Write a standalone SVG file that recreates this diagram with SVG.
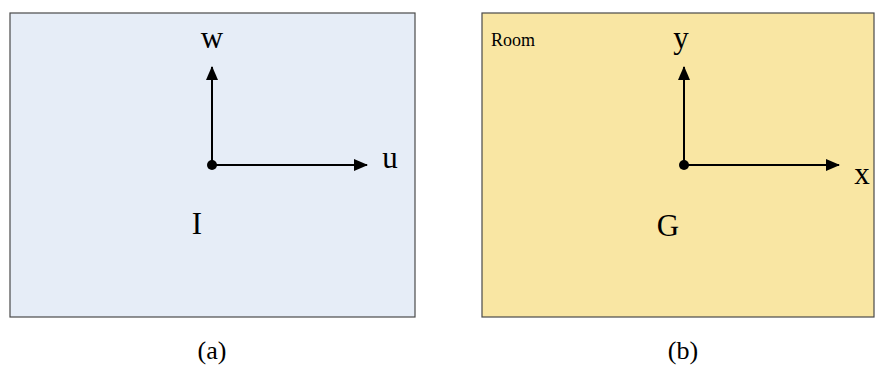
<svg xmlns="http://www.w3.org/2000/svg" width="876" height="365" viewBox="0 0 876 365">
<style>
text{font-family:"Liberation Serif","Times New Roman",serif;fill:#000}
.lbl{font-size:31px}
.cap{font-size:26px;text-anchor:middle}
.ax{stroke:#000;stroke-width:2;fill:none}
.box{stroke:#4a4a4a;stroke-width:1.2}
</style>
<defs>
<marker id="ah" viewBox="0 0 14 12" refX="13" refY="6" markerWidth="14" markerHeight="12" markerUnits="userSpaceOnUse" orient="auto">
<path d="M0,0 L14,6 L0,12 Z" fill="#000"/>
</marker>
</defs>
<g id="panelA">
<rect class="box" x="10" y="13" width="405" height="304" fill="#e6edf7"/>
<text class="lbl" x="212" y="48" text-anchor="middle">w</text>
<text class="lbl" x="390" y="168" text-anchor="middle">u</text>
<text class="lbl" x="197" y="234" text-anchor="middle">I</text>
<circle cx="212" cy="165" r="5" fill="#000"/>
</g>
<g id="panelB">
<rect class="box" x="482" y="13" width="392" height="304" fill="#f9e6a3"/>
<text x="491" y="46" style="font-size:18px">Room</text>
<text class="lbl" x="681" y="48" text-anchor="middle">y</text>
<text class="lbl" x="862" y="184" text-anchor="middle">x</text>
<text class="lbl" x="668" y="236" text-anchor="middle">G</text>
<circle cx="684" cy="165" r="5" fill="#000"/>
</g>
<g id="connectors">
<line class="ax" x1="212" y1="165" x2="212" y2="67" marker-end="url(#ah)"/>
<line class="ax" x1="212" y1="165" x2="367" y2="165" marker-end="url(#ah)"/>
<line class="ax" x1="684" y1="165" x2="684" y2="67" marker-end="url(#ah)"/>
<line class="ax" x1="684" y1="165" x2="839" y2="165" marker-end="url(#ah)"/>
</g>
<g id="captions">
<text class="cap" x="212" y="359">(a)</text>
<text class="cap" x="683" y="359">(b)</text>
</g>
</svg>
